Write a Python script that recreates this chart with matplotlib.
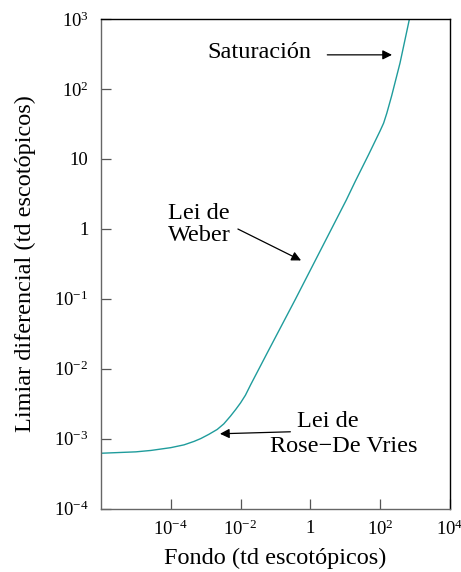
import matplotlib.pyplot as plt
import numpy as np

# Curve, as decimal exponents (log10) of
# background (td escotópicos) and increment threshold
log_background = [-6, -5, -4.57, -4, -3.62, -3.33, -3.14, -2.91, -2.67, -2.48, -2.29, -2.14,
                  -2.0, -1.86, -1.71, -1.48, -1.24, -0.43, 1.03, 1.29, 1.67, 2.0, 2.1,
                  2.19, 2.33, 2.57, 2.84]
log_threshold = [-3.21, -3.19, -3.17, -3.13, -3.09, -3.04, -3.00, -2.94, -2.87, -2.79, -2.68, -2.585,
                 -2.49, -2.38, -2.23, -2.01, -1.78, -1.01, 0.41, 0.68, 1.06, 1.40, 1.51,
                 1.65, 1.90, 2.37, 3.0]

# Tick labels
xticks = [1e-4, 1e-2, 1, 1e2, 1e4]
xtick_labels = ['$10^{-4}$', '$10^{-2}$', '1', '$10^{2}$', '$10^{4}$']
yticks = [1e-4, 1e-3, 1e-2, 1e-1, 1, 10, 1e2, 1e3]
ytick_labels = ['$10^{-4}$', '$10^{-3}$', '$10^{-2}$', '$10^{-1}$', '1', '10', '$10^{2}$', '$10^{3}$']

plt.rcParams['font.family'] = ['Liberation Serif', 'DejaVu Serif']
plt.rcParams['mathtext.fontset'] = 'custom'
plt.rcParams['mathtext.rm'] = 'Liberation Serif'
plt.rcParams['mathtext.it'] = 'Liberation Serif:italic'

fig = plt.figure(figsize=(4.61, 5.72), dpi=100)
ax = fig.add_axes([0.219, 0.111, 0.757, 0.856])

ax.plot(np.power(10.0, log_background), np.power(10.0, log_threshold),
        color='#1f9c9c', lw=1.0)

ax.set_xscale('log')
ax.set_yscale('log')
ax.set_xlim(1e-6, 1e4)
ax.set_ylim(1e-4, 1e3)

ax.set_xticks(xticks)
ax.set_xticklabels(xtick_labels)
ax.set_yticks(yticks)
ax.set_yticklabels(ytick_labels)
ax.minorticks_off()
ax.tick_params(direction='in', length=7, width=0.9, labelsize=13.5, color='#555555')
ax.tick_params(axis='y', pad=9)
ax.tick_params(axis='x', pad=8)

for side in ['left', 'bottom']:
    ax.spines[side].set_color('#666666')
    ax.spines[side].set_linewidth(1.0)
for side in ['top', 'right']:
    ax.spines[side].set_color('black')
    ax.spines[side].set_linewidth(1.0)

ax.set_xlabel('Fondo (td escotópicos)', fontsize=17.5, labelpad=6)
ax.set_ylabel('Limiar diferencial (td escotópicos)', fontsize=17.5, labelpad=13)

arrow = dict(arrowstyle='-|>', color='black', lw=0.9, mutation_scale=14, shrinkA=0, shrinkB=0)

ax.text(1.15e-3, 330, 'Saturación', fontsize=17.5, ha='left', va='center')
ax.annotate('', xy=(219, 306), xytext=(3.06, 306), arrowprops=arrow)

ax.text(8.2e-5, 1.14, 'Lei de\nWeber', fontsize=17.5, ha='left', va='center', linespacing=1.05)
ax.annotate('', xy=(0.542, 0.352), xytext=(8.4e-3, 0.99), arrowprops=arrow)

ax.text(3.16, 1.77e-3, 'Lei de', fontsize=17.5, ha='center', va='center')
ax.text(9.36, 7.76e-4, 'Rose\u2212De Vries', fontsize=17.5, ha='center', va='center')
ax.annotate('', xy=(2.57e-3, 1.17e-3), xytext=(0.268, 1.25e-3), arrowprops=arrow)

fig.savefig('out.png', dpi=100)
